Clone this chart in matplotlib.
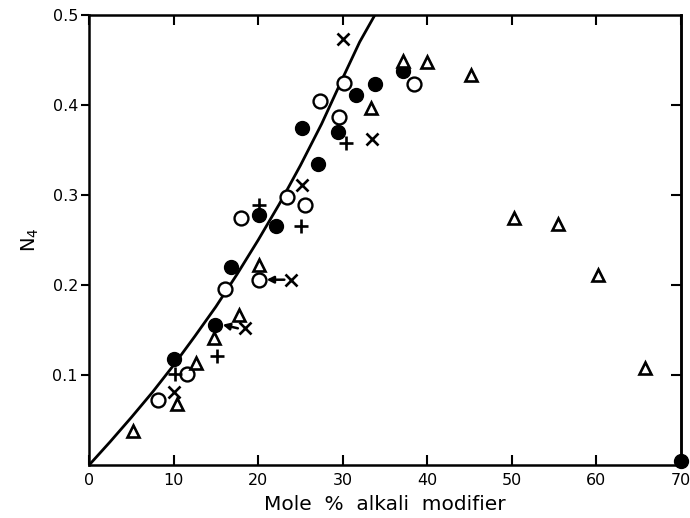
import matplotlib
matplotlib.use('Agg')
import matplotlib.pyplot as plt

# line drawn through the data
curve_x = [0, 2.5, 5, 7.5, 10, 12.5, 15, 17.5, 20, 22.5, 25, 27.5, 30, 32, 33.8]
curve_y = [0, 0.026, 0.053, 0.081, 0.111, 0.143, 0.176, 0.212, 0.25, 0.29,
           0.333, 0.379, 0.43, 0.47, 0.5]

filled_x = [10.0, 14.9, 16.8, 20.1, 22.1, 25.2, 27.1, 29.4, 31.6, 33.8, 37.1, 70.0]
filled_y = [0.118, 0.156, 0.220, 0.278, 0.266, 0.374, 0.334, 0.370, 0.411, 0.423, 0.438, 0.005]

open_x = [8.1, 11.6, 16.1, 18.0, 20.1, 23.4, 25.5, 27.3, 29.5, 30.2, 38.4]
open_y = [0.072, 0.101, 0.196, 0.274, 0.206, 0.298, 0.289, 0.404, 0.387, 0.424, 0.423]

tri_x = [5.2, 10.4, 12.6, 14.8, 17.7, 20.1, 33.4, 37.1, 40.0, 45.2, 50.2, 55.4, 60.2, 65.7]
tri_y = [0.038, 0.068, 0.113, 0.141, 0.167, 0.222, 0.397, 0.449, 0.448, 0.433,
         0.274, 0.268, 0.211, 0.108]

plus_x = [10.2, 15.1, 20.1, 25.1, 30.4]
plus_y = [0.101, 0.121, 0.289, 0.266, 0.358]

cross_x = [10.0, 18.4, 23.9, 25.2, 30.0, 33.5]
cross_y = [0.081, 0.152, 0.206, 0.311, 0.473, 0.362]

# arrows: from a cross to the circle it belongs to
arrows = [((18.4, 0.152), (14.9, 0.156)), ((23.9, 0.206), (20.1, 0.206))]

xticks = [0, 10, 20, 30, 40, 50, 60, 70]
yticks = [0.1, 0.2, 0.3, 0.4, 0.5]

plt.rcParams['font.family'] = 'DejaVu Sans'
fig = plt.figure(figsize=(6.9, 5.18), dpi=100)
ax = fig.add_axes([0.129, 0.102, 0.858, 0.869])

ax.plot(curve_x, curve_y, color='black', lw=2.0, zorder=2)
ax.plot(filled_x, filled_y, 'o', ms=10, color='black', ls='none', clip_on=False, zorder=4)
ax.plot(open_x, open_y, 'o', ms=10, mfc='white', mec='black', mew=1.7, ls='none', zorder=4)
ax.plot(tri_x, tri_y, '^', ms=8, mfc='white', mec='black', mew=1.9, ls='none', zorder=4)
ax.plot(plus_x, plus_y, '+', ms=10, mec='black', mew=1.9, ls='none', zorder=4)
ax.plot(cross_x, cross_y, 'x', ms=8, mec='black', mew=1.9, ls='none', zorder=4)
for (x0, y0), (x1, y1) in arrows:
    ax.annotate('', xy=(x1 + 0.9, y1), xytext=(x0 - 0.8, y0),
                arrowprops=dict(arrowstyle='-|>', color='black', lw=1.8,
                                mutation_scale=10, shrinkA=0, shrinkB=0))

ax.set_xlim(0, 70)
ax.set_ylim(0, 0.5)
ax.set_xticks(xticks)
ax.set_xticklabels([str(t) for t in xticks])
ax.set_yticks(yticks)
ax.set_yticklabels(['0.1', '0.2', '0.3', '0.4', '0.5'])

for s in ax.spines.values():
    s.set_linewidth(1.8)

ax.tick_params(axis='x', direction='in', length=7, width=1.5, top=True,
               labelsize=11.5, pad=6)
ax.tick_params(axis='y', which='both', left=True, right=False, direction='out',
               length=6, width=1.5, labelsize=11.5, pad=2)
axr = ax.secondary_yaxis('right')
axr.set_yticks([0.1, 0.2, 0.3, 0.4])
axr.tick_params(direction='in', length=7, width=1.5, labelright=False)
axr.spines['right'].set_linewidth(1.8)

ax.set_xlabel('Mole  %  alkali  modifier', fontsize=14.5, labelpad=5)
ax.set_ylabel('N$_4$', fontsize=14, labelpad=8)

plt.savefig('out.png', dpi=100)
